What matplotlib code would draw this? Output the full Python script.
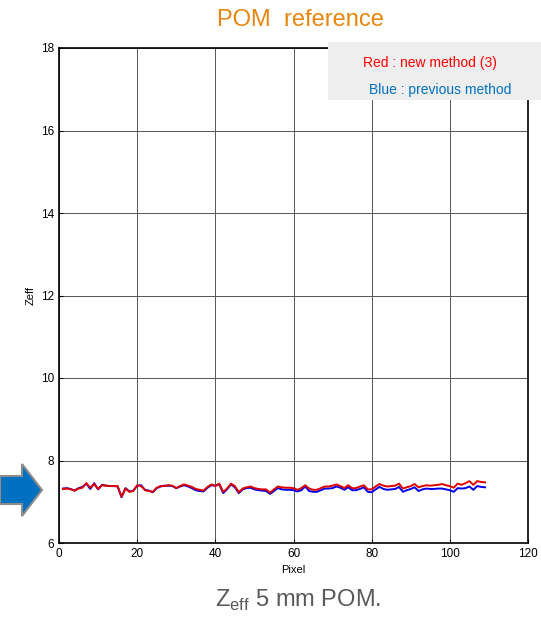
import numpy as np
import matplotlib.pyplot as plt
from matplotlib.patches import Polygon, Rectangle

plt.rcParams['font.family'] = ['Liberation Sans', 'DejaVu Sans']

pixel = list(range(1, 110))

zeff_new = [7.31, 7.32, 7.30, 7.27, 7.32, 7.34, 7.45, 7.34, 7.43, 7.31,
            7.40, 7.39, 7.38, 7.38, 7.38, 7.12, 7.32, 7.24, 7.26, 7.40,
            7.38, 7.28, 7.26, 7.24, 7.34, 7.38, 7.38, 7.40, 7.39, 7.33,
            7.38, 7.42, 7.39, 7.36, 7.31, 7.29, 7.27, 7.36, 7.42, 7.38,
            7.44, 7.24, 7.32, 7.44, 7.38, 7.23, 7.32, 7.35, 7.37, 7.33,
            7.31, 7.30, 7.30, 7.22, 7.30, 7.37, 7.35, 7.34, 7.34, 7.33,
            7.29, 7.33, 7.40, 7.32, 7.29, 7.29, 7.33, 7.37, 7.37, 7.39,
            7.42, 7.38, 7.33, 7.40, 7.33, 7.33, 7.37, 7.40, 7.30, 7.30,
            7.37, 7.43, 7.39, 7.37, 7.38, 7.39, 7.44, 7.32, 7.35, 7.38,
            7.43, 7.35, 7.38, 7.40, 7.39, 7.40, 7.41, 7.43, 7.40, 7.38,
            7.34, 7.44, 7.41, 7.45, 7.50, 7.41, 7.50, 7.48, 7.47]

zeff_prev = [7.32, 7.33, 7.31, 7.27, 7.33, 7.36, 7.44, 7.31, 7.45, 7.30,
             7.41, 7.39, 7.38, 7.38, 7.37, 7.11, 7.33, 7.25, 7.27, 7.39,
             7.40, 7.29, 7.27, 7.23, 7.33, 7.37, 7.39, 7.39, 7.38, 7.33,
             7.37, 7.40, 7.37, 7.33, 7.28, 7.26, 7.25, 7.34, 7.40, 7.39,
             7.42, 7.21, 7.30, 7.42, 7.35, 7.21, 7.30, 7.33, 7.34, 7.30,
             7.28, 7.27, 7.26, 7.19, 7.26, 7.33, 7.30, 7.29, 7.29, 7.28,
             7.25, 7.28, 7.37, 7.26, 7.24, 7.24, 7.28, 7.32, 7.32, 7.33,
             7.37, 7.34, 7.29, 7.35, 7.28, 7.28, 7.31, 7.35, 7.24, 7.23,
             7.30, 7.36, 7.31, 7.29, 7.30, 7.31, 7.36, 7.24, 7.28, 7.31,
             7.35, 7.26, 7.30, 7.32, 7.31, 7.31, 7.32, 7.32, 7.30, 7.28,
             7.24, 7.33, 7.32, 7.33, 7.37, 7.29, 7.38, 7.36, 7.35]

W, H = 541, 624
fig = plt.figure(figsize=(W/100, H/100), dpi=100)
ax = fig.add_axes([59/W, 1-543/H, (528-59)/W, (543-48)/H])

ax.plot(pixel, zeff_prev, color='#0000ee', lw=1.4)
ax.plot(pixel, zeff_new, color='#e00000', lw=1.4)

ax.set_xlim(0, 120)
ax.set_ylim(6, 18)
ax.set_xticks(range(0, 121, 20))
ax.set_yticks(range(6, 19, 2))
ax.grid(True, color='#555555', lw=0.7)
ax.tick_params(direction='in', labelsize=8.5, length=3)
for s in ax.spines.values():
    s.set_linewidth(1.2)
ax.set_xlabel('Pixel', fontsize=8, labelpad=4)
ax.set_ylabel('Zeff', fontsize=8, labelpad=4)

# title and caption
fig.text(300/W, 1-20/H, 'POM  reference', color='#E8850C', fontsize=17,
         ha='center', va='center')
fig.text(298/W, 1-600/H, r'Z$_{\mathregular{eff}}$ 5 mm POM.', color='#595959',
         fontsize=17, ha='center', va='center')

# legend box
fig.patches.append(Rectangle((328/W, 1-100/H), (W-328)/W, 58/H,
                             transform=fig.transFigure, facecolor='#eeeeee',
                             edgecolor='none', zorder=5))
fig.text(430/W, 1-63/H, 'Red : new method (3)', color='#ff0000', fontsize=10,
         ha='center', va='center', zorder=6)
fig.text(440/W, 1-90/H, 'Blue : previous method', color='#0070C0', fontsize=10,
         ha='center', va='center', zorder=6)

# block arrow on the left
arrow = [(0, 476), (22, 476), (22, 464), (42, 490), (22, 516), (22, 504), (0, 504)]
arrow = [(x/W, 1-y/H) for x, y in arrow]
fig.patches.append(Polygon(arrow, closed=True, transform=fig.transFigure,
                           facecolor='#0070C0', edgecolor='#8c8c8c', lw=1.5))

fig.savefig('out.png', dpi=100)
